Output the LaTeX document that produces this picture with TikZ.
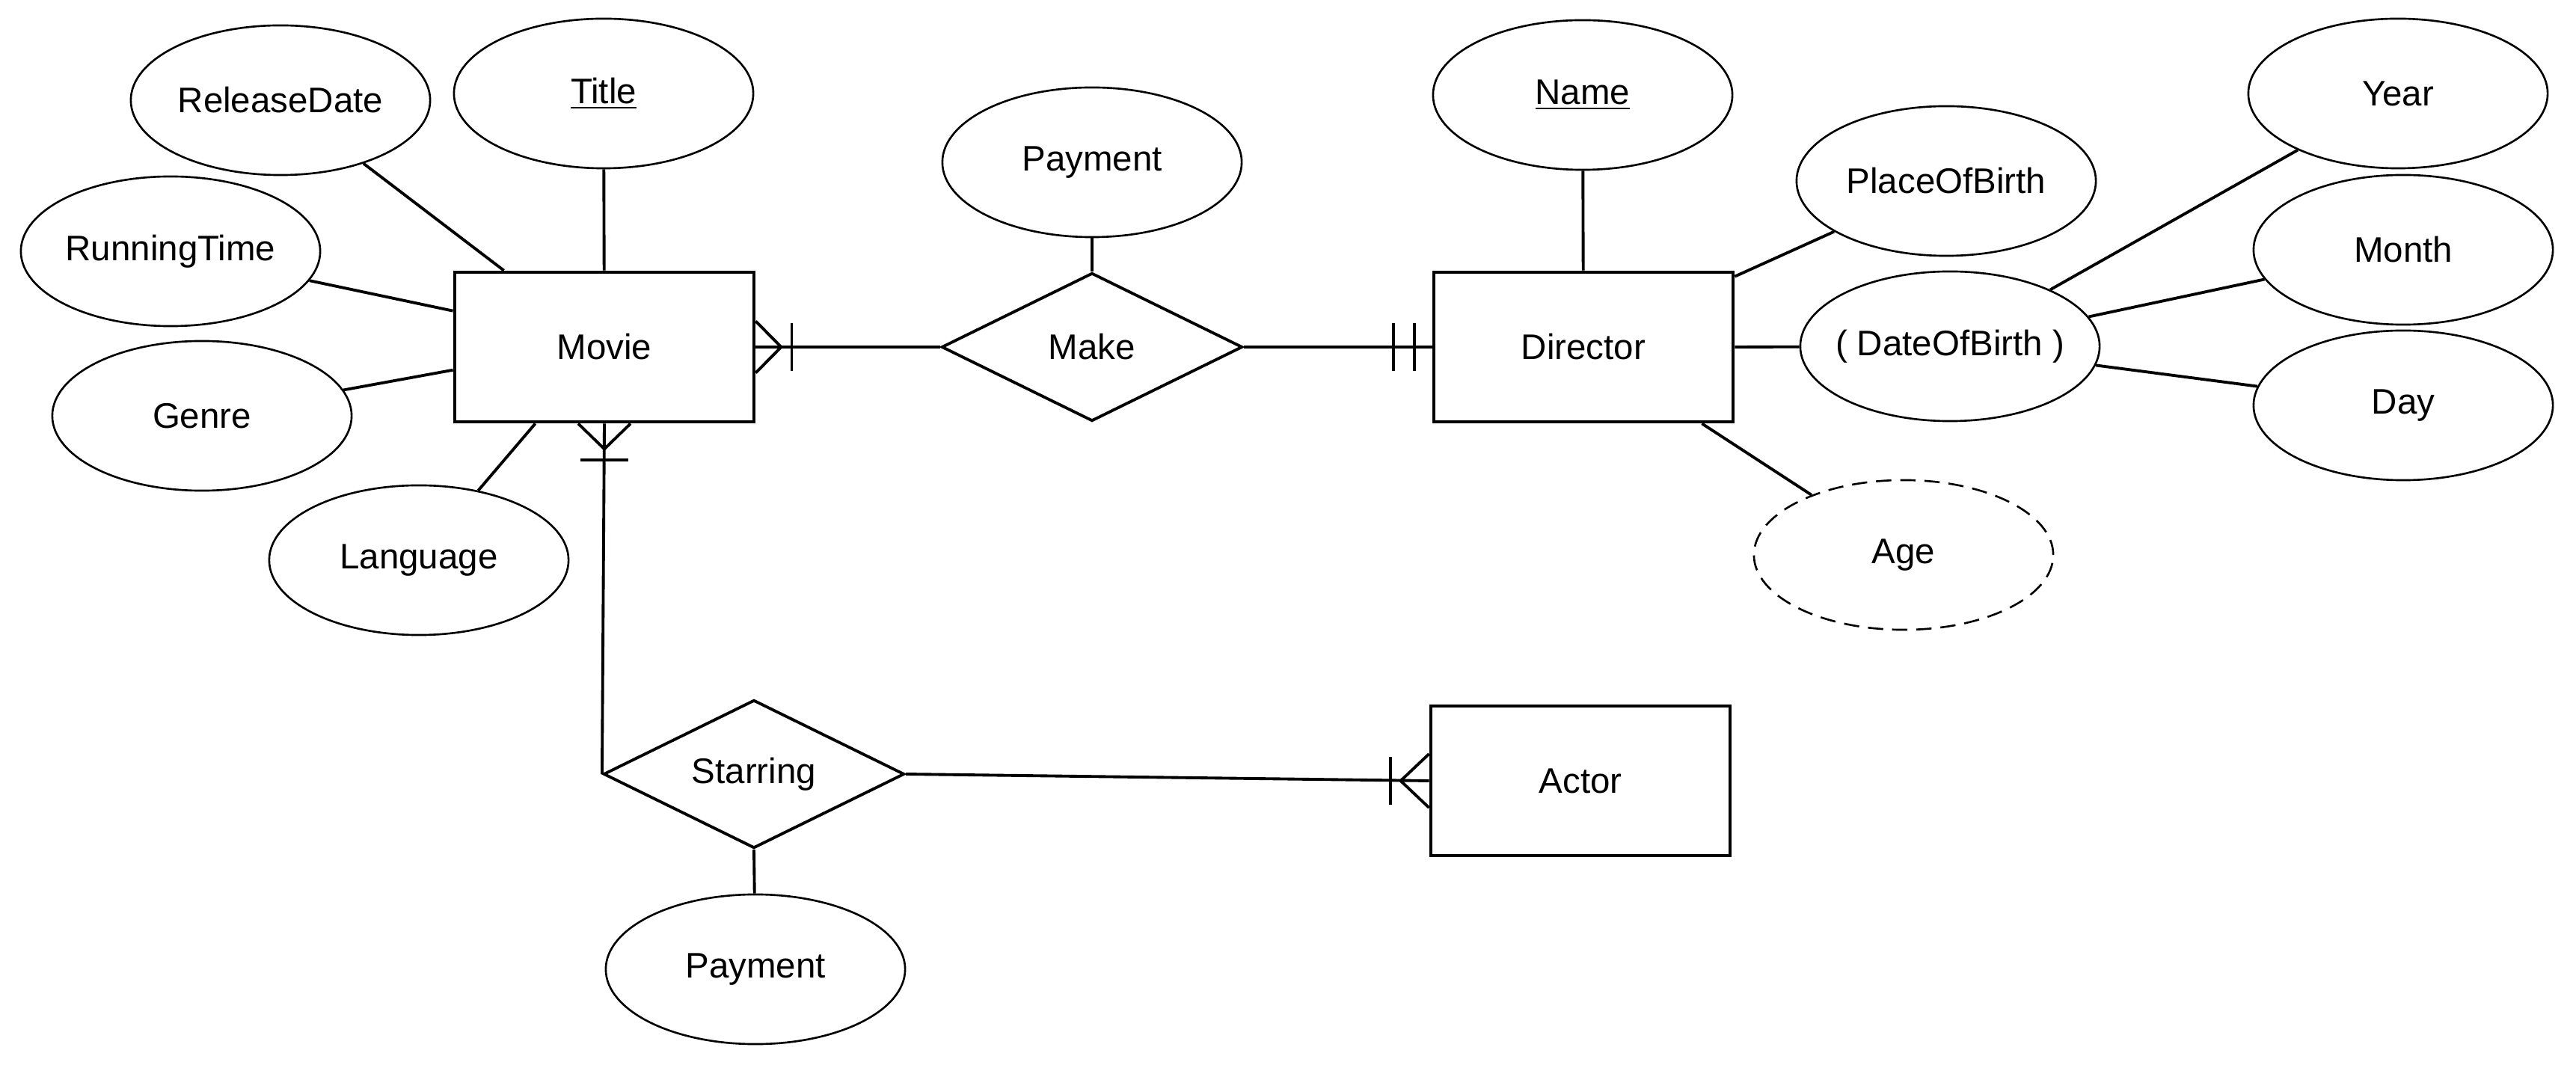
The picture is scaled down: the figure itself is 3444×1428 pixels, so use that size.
\documentclass[tikz,border=0pt]{standalone}
\usepackage{fontspec}
\setmainfont{Liberation Sans}
\usetikzlibrary{shapes.geometric}
\begin{document}
\begin{tikzpicture}[x=0.01cm,y=-0.01cm,
  every node/.style={font=\fontsize{13.5}{16}\selectfont},
  ent/.style={draw,line width=1.3pt,rectangle,minimum width=4cm,minimum height=2cm,inner sep=0pt},
  rel/.style={draw,line width=1.1pt,diamond,aspect=2,minimum width=4.02cm,minimum height=1.98cm,inner sep=0pt},
  attr/.style={draw,line width=0.75pt,ellipse,minimum width=4cm,minimum height=2cm,inner sep=0pt},
  derived/.style={attr,dash pattern=on 5.8pt off 3.4pt},
  conn/.style={line width=1.1pt}]
\useasboundingbox (0,0) rectangle (3444,1428);
% entities
\node[ent] (movie) at (808,464) {Movie};
\node[ent] (director) at (2117,464) {Director};
\node[ent] (actor) at (2113,1044) {Actor};
% relationships
\node[rel] (make) at (1460,464) {Make};
\node[rel] (starring) at (1008,1035) {Starring};
% attributes
\node[attr] (rd) at (375,134) {ReleaseDate};
\node[attr] (title) at (807,125) {\underline{Title}};
\node[attr] (rt) at (228,336) {RunningTime};
\node[attr] (genre) at (270,556) {Genre};
\node[attr] (lang) at (560,749) {Language};
\node[attr] (pay1) at (1460,217) {Payment};
\node[attr] (name) at (2116,127) {\underline{Name}};
\node[attr] (pob) at (2602,242) {PlaceOfBirth};
\node[attr] (dob) at (2607,463) {\makebox[0pt]{( DateOfBirth )}};
\node[attr] (year) at (3206,125) {Year};
\node[attr] (month) at (3213,334) {Month};
\node[attr] (day) at (3213,542) {Day};
\node[derived] (age) at (2545,742) {Age};
\node[attr] (pay2) at (1010,1296) {Payment};
% attribute connectors
\draw[conn] (rd) -- ([xshift=0.68cm]movie.north west);
\draw[conn] (title) -- (movie);
\draw[conn] (rt) -- ([yshift=-0.54cm]movie.north west);
\draw[conn] (genre) -- ([yshift=-1.33cm]movie.north west);
\draw[conn] (lang) -- ([xshift=1.10cm]movie.south west);
\draw[conn] (pay1) -- (make);
\draw[conn] (name) -- (director);
\draw[conn] (pob) -- ([yshift=-0.08cm]director.north east);
\draw[conn] (director.east) -- (dob);
\draw[conn] (age) -- ([xshift=-0.44cm]director.south east);
\draw[conn] (dob) -- (year);
\draw[conn] (dob) -- (month);
\draw[conn] (dob) -- (day);
\draw[conn] (starring.south) -- (pay2);
% relationship connectors
\draw[conn] (movie.east) -- (make.west);
\draw[conn] (make.east) -- (director.west);
\draw[conn] (movie.south) -- (starring.west);
\draw[conn] (starring.east) -- (actor.west);
% crow's feet and bars
\draw[conn] ([yshift=0.345cm]movie.east) -- ([xshift=0.34cm]movie.east) -- ([yshift=-0.345cm]movie.east);
\draw[conn] ([xshift=0.48cm,yshift=0.32cm]movie.east) -- ([xshift=0.48cm,yshift=-0.32cm]movie.east);
\draw[conn] ([xshift=-0.35cm]movie.south) -- ([yshift=-0.34cm]movie.south) -- ([xshift=0.35cm]movie.south);
\draw[conn] ([xshift=-0.315cm,yshift=-0.49cm]movie.south) -- ([xshift=0.315cm,yshift=-0.49cm]movie.south);
\draw[conn] ([xshift=-0.52cm,yshift=0.32cm]director.west) -- ([xshift=-0.52cm,yshift=-0.32cm]director.west);
\draw[conn] ([xshift=-0.24cm,yshift=0.32cm]director.west) -- ([xshift=-0.24cm,yshift=-0.32cm]director.west);
\draw[conn] ([yshift=0.36cm]actor.west) -- ([xshift=-0.38cm]actor.west) -- ([yshift=-0.36cm]actor.west);
\draw[conn] ([xshift=-0.52cm,yshift=0.32cm]actor.west) -- ([xshift=-0.52cm,yshift=-0.32cm]actor.west);
\end{tikzpicture}
\end{document}
